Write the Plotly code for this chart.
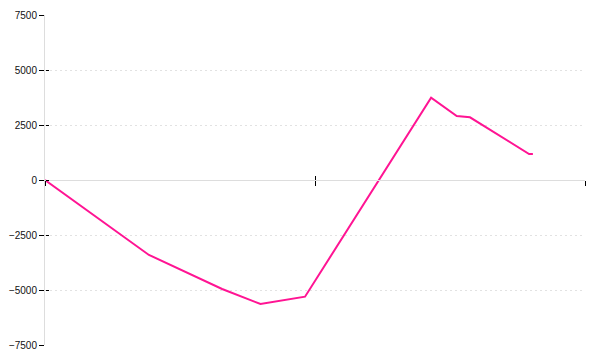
import plotly.graph_objects as go

# Data
x_vals = [0.0, 0.385, 0.656, 0.798, 0.963, 1.430, 1.525, 1.574, 1.793, 1.807]
y_vals = [0, -3409, -4955, -5636, -5305, 3741, 2909, 2850, 1182, 1182]
y_ticks = [-7500, -5000, -2500, 0, 2500, 5000, 7500]
x_ticks = [0, 1, 2]

LINE = "#ff1493"
AXIS = "#dddddd"

fig = go.Figure()
fig.add_trace(go.Scatter(x=x_vals, y=y_vals, mode="lines",
                         line=dict(color=LINE, width=2), showlegend=False,
                         hoverinfo="skip"))
# invisible trace to anchor the overlay axes (for crossing tick marks)
fig.add_trace(go.Scatter(x=x_vals, y=y_vals, mode="lines", xaxis="x2", yaxis="y2",
                         line=dict(color="rgba(0,0,0,0)", width=0), showlegend=False,
                         hoverinfo="skip"))

fig.update_layout(
    width=600, height=360,
    margin=dict(l=45, r=15, t=15, b=15, pad=0),
    paper_bgcolor="white", plot_bgcolor="white",
    font=dict(family="Liberation Sans, Arial, sans-serif", size=10, color="#111"),
    xaxis=dict(range=[0, 2], tickvals=x_ticks, showticklabels=False,
               ticks="outside", ticklen=5, tickwidth=1, tickcolor="#000",
               showgrid=False, zeroline=False, showline=True, linecolor=AXIS,
               linewidth=1, anchor="free", position=0.5, automargin=False),
    xaxis2=dict(range=[0, 2], overlaying="x", tickvals=x_ticks, showticklabels=False,
                ticks="inside", ticklen=4, tickwidth=1, tickcolor="#000",
                showgrid=False, zeroline=False, showline=False,
                anchor="free", position=0.5, automargin=False),
    yaxis=dict(range=[-7500, 7500], tickvals=y_ticks,
               ticktext=[f"{v}".replace("-", "\u2212") for v in y_ticks],
               ticks="outside", ticklen=5, tickwidth=1, tickcolor="#000",
               showgrid=True, gridcolor="#e2e2e2", griddash="2px,3px", gridwidth=1,
               zeroline=False, showline=True, linecolor=AXIS, linewidth=1,
               automargin=False),
    yaxis2=dict(range=[-7500, 7500], overlaying="y", tickvals=y_ticks,
                showticklabels=False, ticks="inside", ticklen=3, tickwidth=1,
                tickcolor="#000", showgrid=False, zeroline=False, showline=False,
                anchor="free", position=0, automargin=False),
)

fig.write_html("out.html")
